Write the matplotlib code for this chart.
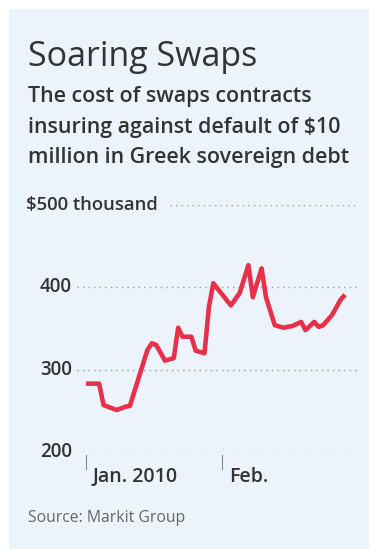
import numpy as np
import matplotlib
matplotlib.use('Agg')
import matplotlib.pyplot as plt
import matplotlib.transforms as mtransforms
from matplotlib.patches import Rectangle

# days after Jan. 1, 2010 and swap cost in $ thousand
day_offsets = [0, 3, 4, 7, 9, 10, 12, 14, 15, 16, 18, 20, 21, 22, 24, 25, 27,
               28, 29, 33, 35, 37, 38, 40, 41, 43, 45, 47, 49, 50, 52, 53, 54,
               56, 58, 59]
swap_cost = [283, 283, 257, 251, 255, 256, 290, 324, 332, 330, 311, 314, 351,
             340, 340, 323, 320, 376, 405, 378, 393, 427, 388, 423, 388, 354,
             351, 353, 358, 348, 358, 352, 354, 366, 385, 391]

y_ticks = [200, 300, 400, 500]
y_labels = ['200', '300', '400', '$500 thousand']
x_ticks = ['2010-01-01', '2010-02-01']
x_labels = ['Jan. 2010', 'Feb.']

start = np.datetime64('2010-01-01')
dates = start + np.array(day_offsets).astype('timedelta64[D]')

W, H = 369, 549
fig = plt.figure(figsize=(W / 100, H / 100), dpi=100)
fig.patch.set_facecolor('white')
bg = '#edf3fb'
fig.patches.append(Rectangle((9 / W, 0), 1, 1 - 9 / H, transform=fig.transFigure,
                             facecolor=bg, edgecolor='none', zorder=-5))

plt.rcParams['font.family'] = ['Open Sans', 'DejaVu Sans']
dark = '#333333'

fig.text(28 / W, 1 - 66 / H, 'Soaring Swaps', fontsize=24.5, color=dark,
         va='baseline', ha='left', fontweight='medium')
sub = ['The cost of swaps contracts', 'insuring against default of $10',
       'million in Greek sovereign debt']
for i, line in enumerate(sub):
    fig.text(28 / W, 1 - (102 + 30.5 * i) / H, line, fontsize=15.4,
             fontweight='semibold', color=dark, va='baseline', ha='left')

ax = fig.add_axes([77 / W, 1 - 452 / H, (358 - 77) / W, (452 - 205) / H])
ax.set_facecolor('none')
ax.set_zorder(2)
for s in ax.spines.values():
    s.set_visible(False)

ax.set_xlim(start - np.timedelta64(49, 'h'), start + np.timedelta64(1487, 'h'))
ax.set_ylim(200, 500)
ax.set_xticks([])
ax.set_yticks([])

ax.plot(dates, swap_cost, color='#e8304a', lw=3.3, solid_joinstyle='round',
        solid_capstyle='butt', zorder=3)

lab_tf = mtransforms.blended_transform_factory(fig.transFigure, ax.transData)
for v, lab in zip(y_ticks, y_labels):
    if v == 500:
        ax.axhline(v, xmin=(170 - 77) / (358 - 77), color='#999999', lw=1,
                   ls=(0, (1, 3)), zorder=1)
        ax.text(26 / W, v, lab, transform=lab_tf, fontsize=13.3, color=dark,
                va='center', ha='left', fontweight='semibold')
    else:
        ax.axhline(v, color='#999999', lw=1, ls=(0, (1, 3)), zorder=1)
        ax.text(72 / W, v, lab, transform=lab_tf, fontsize=13.5, color=dark,
                va='center', ha='right', fontweight='semibold')

xt = mtransforms.blended_transform_factory(ax.transData, ax.transAxes)
for d, lab in zip(x_ticks, x_labels):
    d = np.datetime64(d)
    ax.plot([d, d], [-0.012, -0.07], transform=xt, color='#888888', lw=0.8,
            clip_on=False)
    ax.text(d + np.timedelta64(36, 'h'), -0.12, lab, transform=xt, fontsize=14,
            color=dark, va='baseline', ha='left', fontweight='semibold')

fig.text(28 / W, 1 - 518 / H, 'Source: Markit Group', fontsize=11.3,
         color='#666666', va='center', ha='left')

fig.savefig('out.png', dpi=100, facecolor=fig.get_facecolor())
